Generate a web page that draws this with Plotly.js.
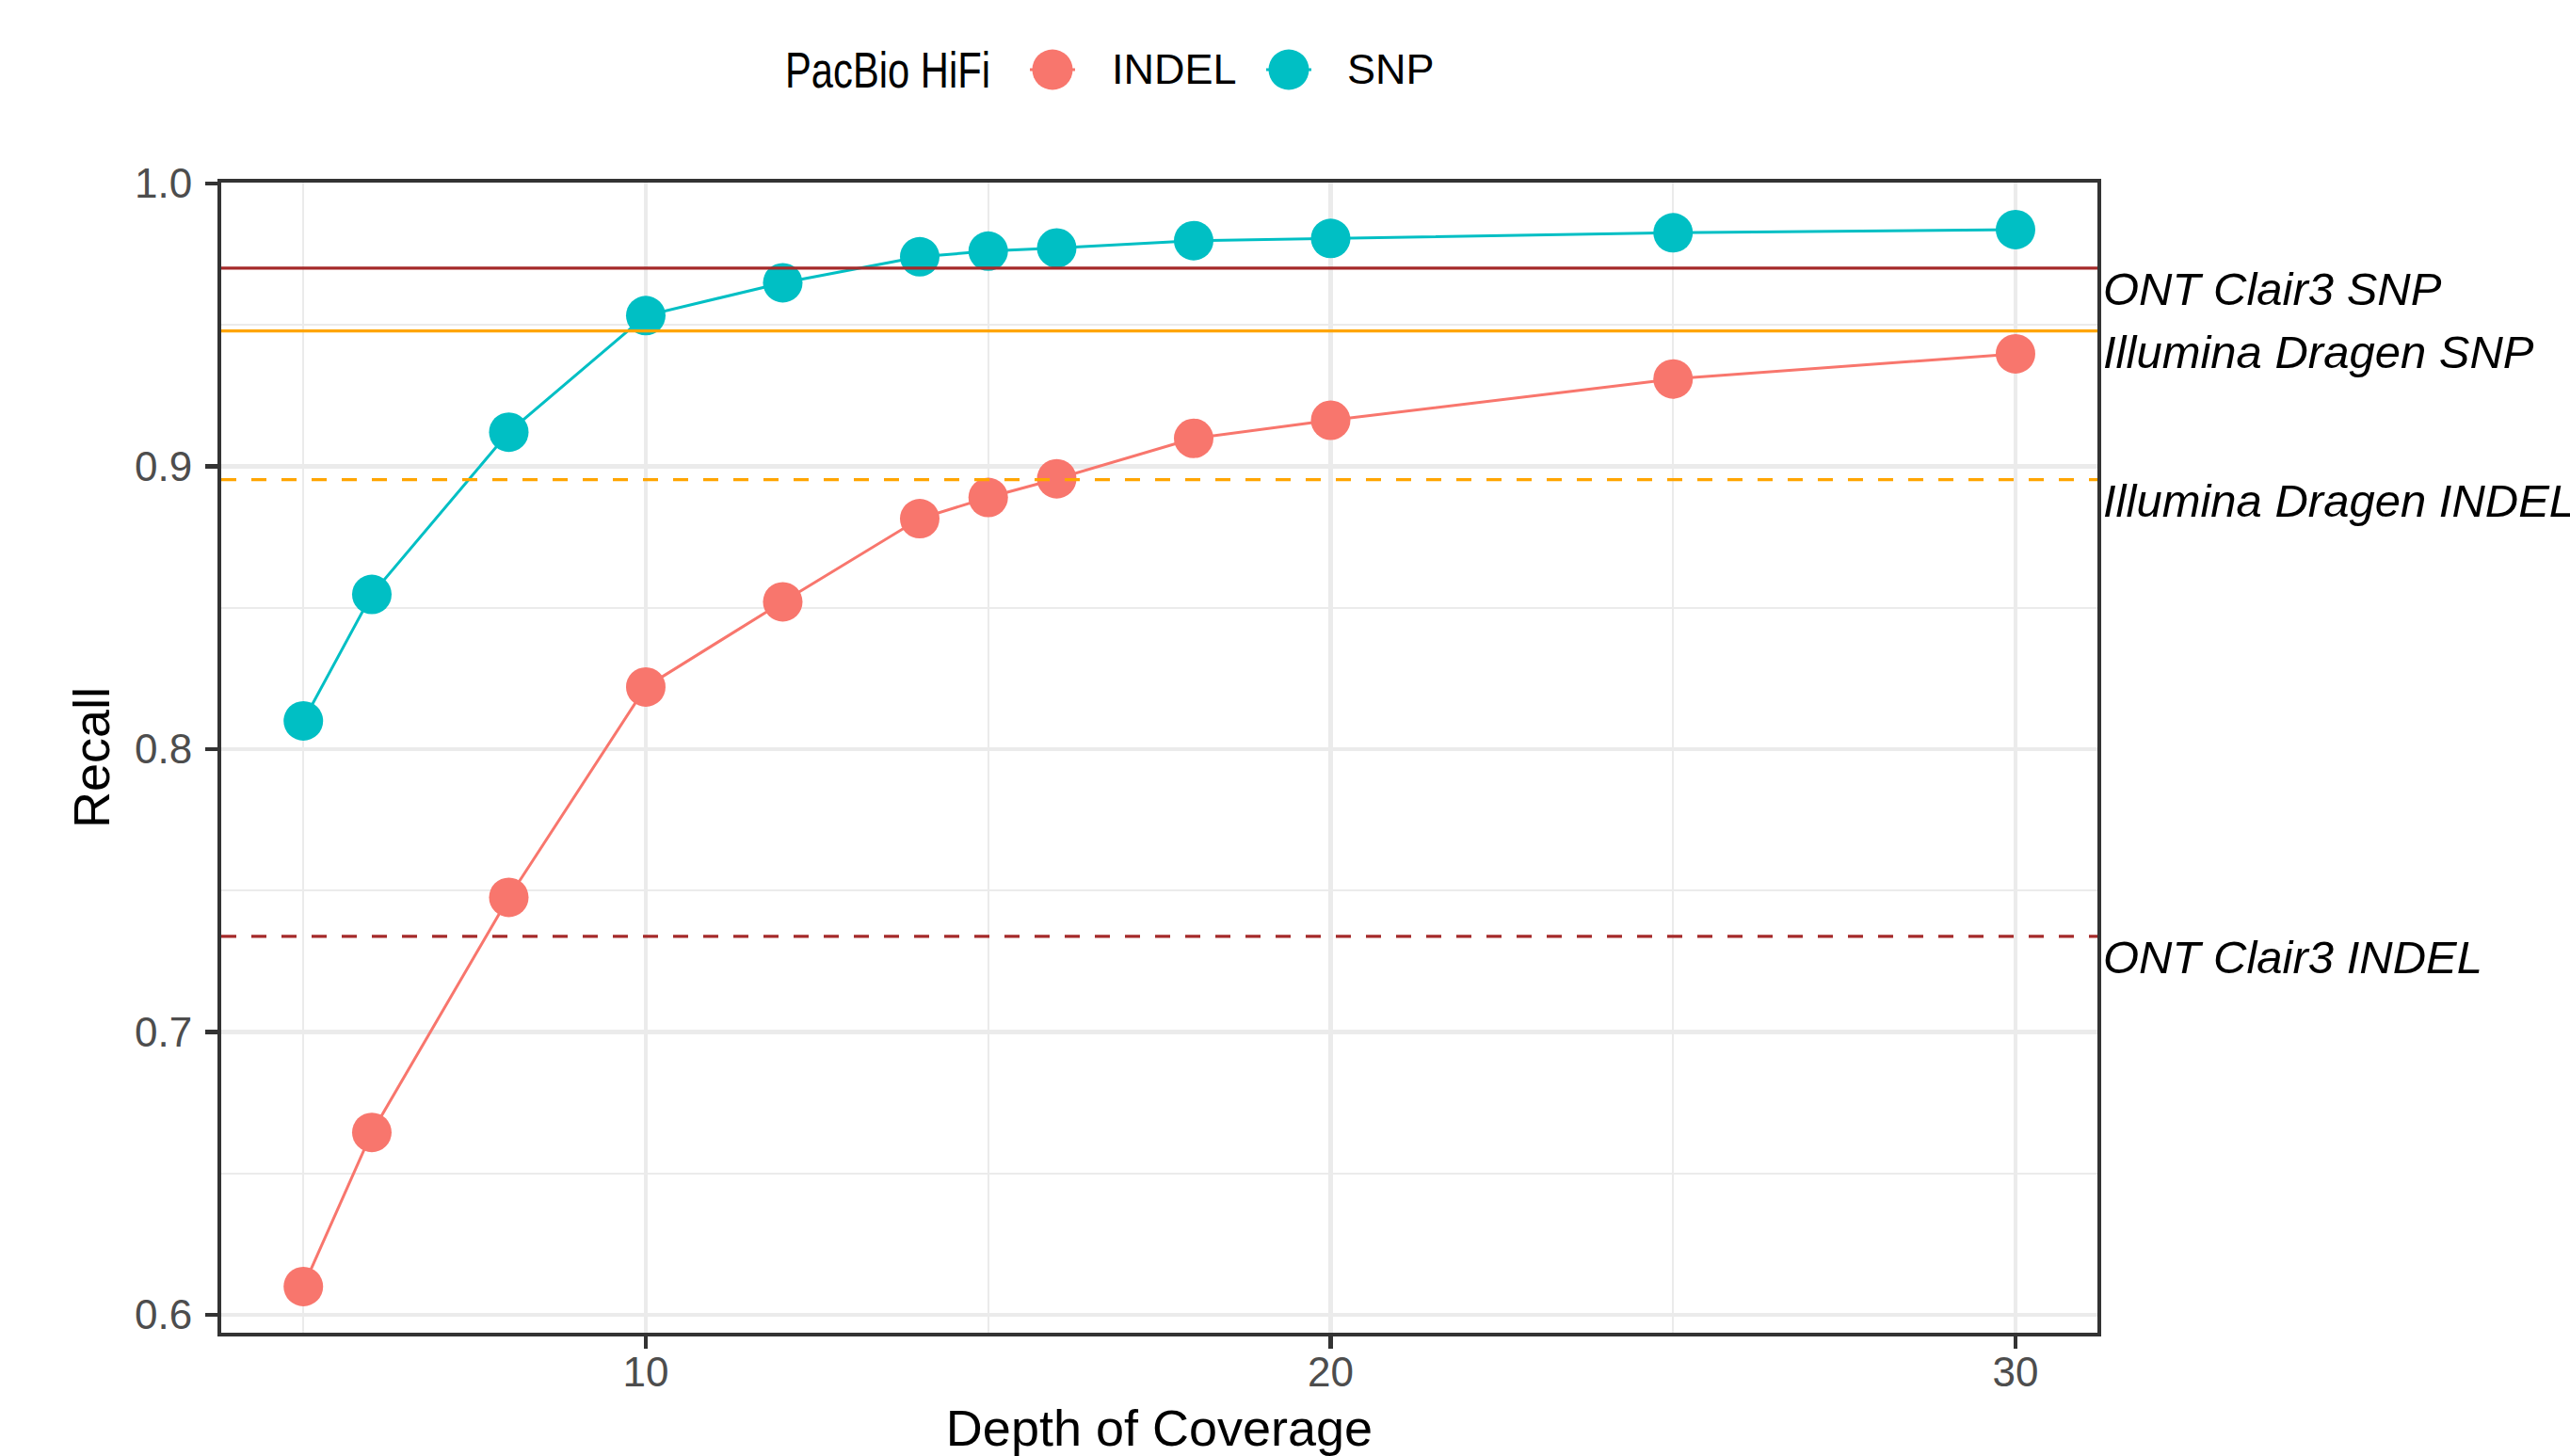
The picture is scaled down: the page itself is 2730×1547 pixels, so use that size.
<!DOCTYPE html>
<html><head><meta charset="utf-8">
<script src="https://cdn.plot.ly/plotly-3.0.1.min.js"></script>
<style>html,body{margin:0;padding:0;background:#fff;}</style>
</head><body><div id="chart" style="width:2730px;height:1547px;"></div>
<script>
// ---- data ----
const depth = [5, 6, 8, 10, 12, 14, 15, 16, 18, 20, 25, 30];
const indelRecall = [0.610, 0.6645, 0.7476, 0.8220, 0.8521, 0.8815, 0.8890, 0.8956, 0.9099, 0.9163, 0.9309, 0.9398];
const snpRecall = [0.8100, 0.8547, 0.9121, 0.9533, 0.9649, 0.9741, 0.9761, 0.9772, 0.9798, 0.9806, 0.9826, 0.9837];
const seriesNames = ['INDEL', 'SNP'];
const seriesColors = ['#F8766D', '#00BFC4'];
const refNames = ['ONT Clair3 SNP', 'Illumina Dragen SNP', 'Illumina Dragen INDEL', 'ONT Clair3 INDEL'];
const refRecall = [0.9701, 0.9479, 0.8953, 0.7338];
const refColors = ['#A52A2A', '#FFA500', '#FFA500', '#A52A2A'];
const refDash = ['solid', 'solid', 'dash', 'dash'];
const legendTitle = 'PacBio HiFi';
const xTickVals = [10, 20, 30];
const yTickVals = [0.6, 0.7, 0.8, 0.9, 1.0];
const xTitle = 'Depth of Coverage';
const yTitle = 'Recall';

// ---- layout geometry (pixels) ----
const W = 2730, H = 1547;
const L = 235, R = 2228, T = 194, B = 1416;
const pw = R - L, ph = B - T;
const px2x = p => (p - L) / pw;
const py2y = p => (B - p) / ph;
const FONT = 'Liberation Sans, Arial, Helvetica, sans-serif';

const ySeries = [indelRecall, snpRecall];
const traces = seriesNames.map((n, i) => ({
  type: 'scatter', mode: 'lines+markers', name: n,
  x: depth, y: ySeries[i],
  line: {color: seriesColors[i], width: 3},
  marker: {color: seriesColors[i], size: 42},
  showlegend: false, cliponaxis: false
}));

const shapes = refRecall.map((v, i) => ({
  type: 'line', xref: 'paper', x0: 0, x1: 1, yref: 'y', y0: v, y1: v,
  layer: 'above',
  line: {color: refColors[i], width: 3.2, dash: refDash[i] === 'dash' ? '16px,16px' : 'solid'}
}));

const annotations = refNames.map((t, i) => ({
  xref: 'paper', x: 1, xanchor: 'left', xshift: 5,
  yref: 'y', y: refRecall[i], yanchor: 'top', yshift: 6,
  text: t, showarrow: false, borderpad: 0,
  font: {family: FONT, size: 49, color: '#000', style: 'italic'}
}));

// manual legend (large keys like the reference)
const legY = py2y(74);
const keyCenters = [1118, 1369];
const labelLefts = [1180, 1430];
annotations.push({
  xref: 'paper', x: px2x(943), xanchor: 'center', yref: 'paper', y: legY, yanchor: 'middle',
  text: legendTitle, showarrow: false, borderpad: 0,
  font: {family: FONT, size: 54, color: '#000'}
});
seriesNames.forEach((n, i) => {
  const cx = px2x(keyCenters[i]);
  shapes.push({
    type: 'line', xref: 'paper', yref: 'paper', xsizemode: 'pixel', ysizemode: 'pixel',
    xanchor: cx, yanchor: legY, x0: -24, x1: 24, y0: 0, y1: 0,
    line: {color: seriesColors[i], width: 3}
  });
  shapes.push({
    type: 'circle', xref: 'paper', yref: 'paper', xsizemode: 'pixel', ysizemode: 'pixel',
    xanchor: cx, yanchor: legY, x0: -21.5, x1: 21.5, y0: -21.5, y1: 21.5,
    fillcolor: seriesColors[i], line: {width: 0}
  });
  annotations.push({
    xref: 'paper', x: px2x(labelLefts[i]), xanchor: 'left', yref: 'paper', y: legY, yanchor: 'middle',
    text: n, showarrow: false, borderpad: 0,
    font: {family: FONT, size: 45, color: '#000'}
  });
});

const axisCommon = {
  showline: true, mirror: true, linecolor: '#333333', linewidth: 4,
  ticks: 'outside', ticklen: 13, tickwidth: 4.5, tickcolor: '#333333',
  showgrid: true, gridcolor: '#EBEBEB', gridwidth: 4.5,
  zeroline: false,
  tickfont: {family: FONT, size: 44, color: '#4D4D4D'}
};

const layout = {
  width: W, height: H,
  margin: {l: L, r: W - R, t: T, b: H - B, pad: 0},
  paper_bgcolor: '#FFFFFF', plot_bgcolor: '#FFFFFF',
  showlegend: false,
  xaxis: Object.assign({}, axisCommon, {
    range: [3.801, 31.196], tickvals: xTickVals, ticktext: xTickVals.map(String),
    minor: {tickvals: [5, 15, 25], showgrid: true, gridcolor: '#EBEBEB', gridwidth: 2.3, ticks: ''},
    title: {text: xTitle, font: {family: FONT, size: 54, color: '#000'}, standoff: 22},
    ticklabelstandoff: -13
  }),
  yaxis: Object.assign({}, axisCommon, {
    range: [0.59368, 1.00033], tickvals: yTickVals, ticktext: yTickVals.map(v => v.toFixed(1)),
    minor: {tickvals: [0.65, 0.75, 0.85, 0.95], showgrid: true, gridcolor: '#EBEBEB', gridwidth: 2.3, ticks: ''},
    title: {text: yTitle, font: {family: FONT, size: 54, color: '#000'}, standoff: 10},
    ticklabelstandoff: 5
  }),
  shapes: shapes,
  annotations: annotations
};

Plotly.newPlot('chart', traces, layout, {staticPlot: true, displayModeBar: false}).then(() => {
  // the reference draws the legend title in a tightly condensed face
  document.querySelectorAll('.annotation-text').forEach(el => {
    if (el.textContent === legendTitle) {
      el.setAttribute('textLength', '218');
      el.setAttribute('lengthAdjust', 'spacingAndGlyphs');
    }
  });
});
</script>
</body></html>
